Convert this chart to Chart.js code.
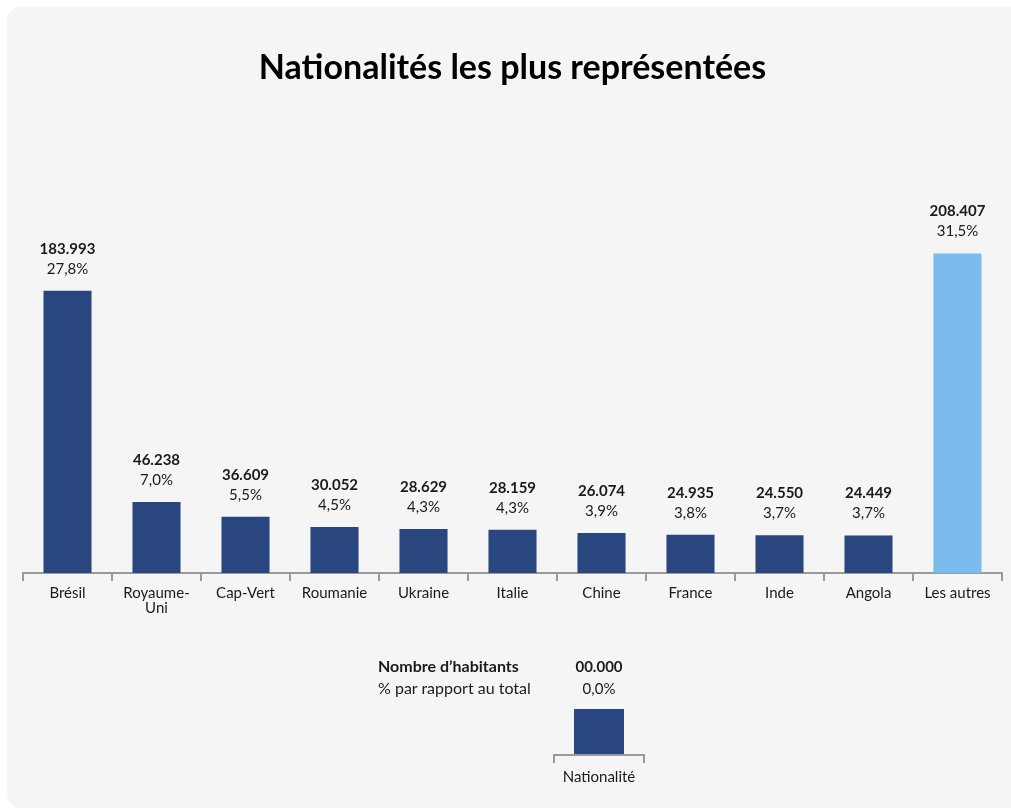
<!DOCTYPE html>
<html lang="fr">
<head>
<meta charset="utf-8">
<title>Nationalités les plus représentées</title>
<script src="https://cdn.jsdelivr.net/npm/chart.js@4.4.1/dist/chart.umd.min.js"></script>
<style>
  html, body { margin: 0; padding: 0; background: #ffffff; }
  body { width: 1011px; height: 809px; position: relative; overflow: hidden; font-family: Lato, "Noto Sans", sans-serif; color: #1a1a1a; }
  .card { position: absolute; left: 7px; top: 7px; width: 1030px; height: 801px; background: #f5f5f5; border-radius: 14px; }
  .chart-box { position: absolute; left: 0; top: 0; width: 1011px; height: 809px; }
  .key { position: absolute; font-size: 15px; line-height: 18px; white-space: nowrap; }
  .key.wide { font-size: 16px; }
  .key.bold { font-weight: 700; }
  .key.center { transform: translateX(-50%); }
  .key-bar { position: absolute; left: 574px; top: 709px; width: 50px; height: 45px; background: #29467f; }
  .key-axis { position: absolute; left: 553px; top: 754px; width: 88px; height: 7px; border: 2px solid #9a9a9a; border-bottom: none; }
</style>
</head>
<body>
<div class="card"></div>
<div class="chart-box"><canvas id="chart"></canvas></div>

<!-- Key explaining the labels above each bar -->
<div class="key wide bold" style="left:378px; top:657px;">Nombre d’habitants</div>
<div class="key wide" style="left:378px; top:679px;">% par rapport au total</div>
<div class="key bold center" style="left:599px; top:657px;">00.000</div>
<div class="key center" style="left:599px; top:679px;">0,0%</div>
<div class="key-bar"></div>
<div class="key-axis"></div>
<div class="key center" style="left:599px; top:767px;">Nationalité</div>

<script>
// Residents by nationality
const categories = ["Brésil", ["Royaume-", "Uni"], "Cap-Vert", "Roumanie", "Ukraine", "Italie", "Chine", "France", "Inde", "Angola", "Les autres"];
const residents = [183993, 46238, 36609, 30052, 28629, 28159, 26074, 24935, 24550, 24449, 208407];
const shareOfTotal = ["27,8%", "7,0%", "5,5%", "4,5%", "4,3%", "4,3%", "3,9%", "3,8%", "3,7%", "3,7%", "31,5%"];
const barColors = ["#29467f", "#29467f", "#29467f", "#29467f", "#29467f", "#29467f", "#29467f", "#29467f", "#29467f", "#29467f", "#7abbed"];

const formatThousands = v => v.toString().replace(/\B(?=(\d{3})+(?!\d))/g, ".");

// Writes the count (bold) and the share (regular) above every bar
const barLabels = {
  id: "barLabels",
  afterDatasetsDraw(chart) {
    const ctx = chart.ctx;
    const meta = chart.getDatasetMeta(0);
    ctx.save();
    ctx.textAlign = "center";
    ctx.textBaseline = "middle";
    ctx.fillStyle = "#1a1a1a";
    meta.data.forEach((bar, i) => {
      ctx.font = "700 15px Lato, 'Noto Sans', sans-serif";
      ctx.fillText(formatThousands(residents[i]), bar.x, bar.y - 42);
      ctx.font = "400 15px Lato, 'Noto Sans', sans-serif";
      ctx.fillText(shareOfTotal[i], bar.x, bar.y - 22);
    });
    ctx.restore();
  }
};

new Chart(document.getElementById("chart"), {
  type: "bar",
  data: {
    labels: categories,
    datasets: [{
      data: residents,
      backgroundColor: barColors,
      borderWidth: 0,
      categoryPercentage: 1,
      barPercentage: 0.54
    }]
  },
  options: {
    responsive: true,
    maintainAspectRatio: false,
    animation: false,
    layout: { padding: { left: 23, right: 9, top: 48, bottom: 196 } },
    plugins: {
      legend: { display: false },
      tooltip: { enabled: false },
      title: {
        display: true,
        text: "Nationalités les plus représentées",
        color: "#000000",
        font: { family: "Lato, 'Noto Sans', sans-serif", size: 34, weight: "700" },
        padding: { top: 0, bottom: 41 }
      }
    },
    scales: {
      x: {
        offset: true,
        afterFit(scale) { scale.height = 40; },
        grid: {
          display: true,
          offset: true,
          drawOnChartArea: false,
          drawTicks: true,
          tickLength: 8,
          color: "#9a9a9a",
          lineWidth: 2
        },
        border: { display: true, color: "#9a9a9a", width: 2 },
        ticks: {
          color: "#1a1a1a",
          padding: 5,
          maxRotation: 0,
          autoSkip: false,
          font: { family: "Lato, 'Noto Sans', sans-serif", size: 15, lineHeight: 1.0 }
        }
      },
      y: {
        display: false,
        min: 0,
        max: 289000
      }
    }
  },
  plugins: [barLabels]
});
</script>
</body>
</html>
